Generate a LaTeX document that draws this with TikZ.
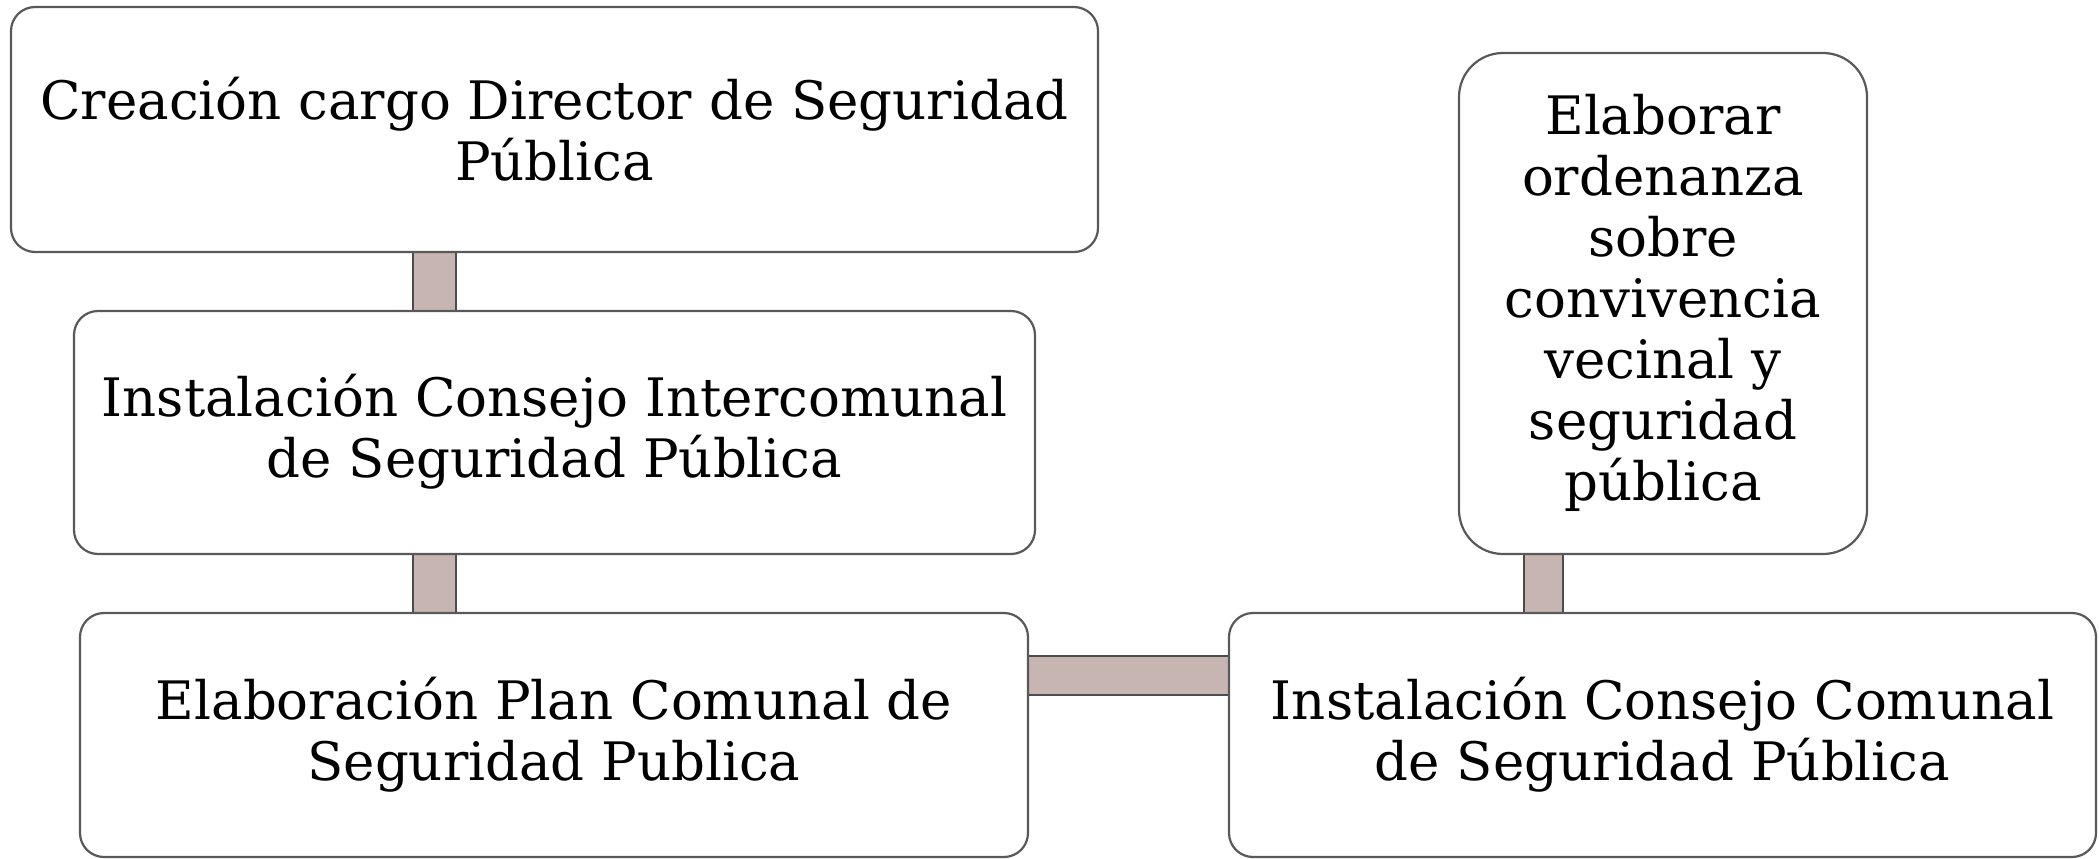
\documentclass[tikz,border=0pt]{standalone}
\usepackage{fontspec}
\setmainfont{DejaVu Serif}
\begin{document}
\begin{tikzpicture}[x=1pt,y=-1pt,
  stepbox/.style={draw=black!65,line width=2.2pt,rounded corners=24pt,fill=white},
  conn/.style={draw=black!70,line width=1.5pt,fill=linkfill},
  lbl/.style={align=center,font=\fontsize{53}{61}\selectfont,text=black}]
\definecolor{linkfill}{HTML}{C7B5B2}
\useasboundingbox (0,0) rectangle (2099,859);
% connectors (drawn first, behind boxes)
\coordinate (c1a) at (413,252);
\coordinate (c1b) at (456,311);
\coordinate (c2a) at (413,554);
\coordinate (c2b) at (456,613);
\coordinate (c3a) at (1028,656);
\coordinate (c3b) at (1229,695);
\coordinate (c4a) at (1524,554);
\coordinate (c4b) at (1563,613);
\draw[conn] (c1a) rectangle (c1b);
\draw[conn] (c2a) rectangle (c2b);
\draw[conn] (c3a) rectangle (c3b);
\draw[conn] (c4a) rectangle (c4b);
% boxes
\draw[stepbox] (11,7) rectangle (1098,252);
\node[lbl] (b1) at (554.5,129) {Creación cargo Director de Seguridad\\Pública};
\draw[stepbox] (74,311) rectangle (1035,554);
\node[lbl] (b2) at (554.5,432) {Instalación Consejo Intercomunal\\de Seguridad Pública};
\draw[stepbox] (80,613) rectangle (1028,857);
\node[lbl] (b3) at (554,735) {Elaboración Plan Comunal de\\Seguridad Publica};
\draw[stepbox] (1229,613) rectangle (2096,857);
\node[lbl] (b4) at (1662.5,735) {Instalación Consejo Comunal\\de Seguridad Pública};
\draw[stepbox,rounded corners=44pt] (1459,53) rectangle (1867,554);
\node[lbl] (b5) at (1663,303) {Elaborar\\ordenanza\\sobre\\convivencia\\vecinal y\\seguridad\\pública};
\end{tikzpicture}
\end{document}
